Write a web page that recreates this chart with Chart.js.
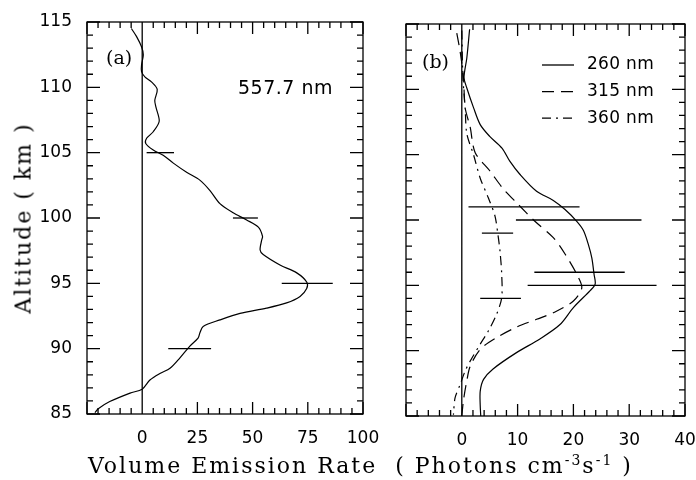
<!DOCTYPE html>
<html>
<head>
<meta charset="utf-8">
<script src="https://cdn.jsdelivr.net/npm/chart.js@4.4.0/dist/chart.umd.min.js"></script>
<style>
  body { margin: 0; background: #fff; }
  #wrap { position: relative; width: 696px; height: 480px; overflow: hidden; }
  canvas { position: absolute; top: 0; }
  #ca { left: 0; }
  #cb { left: 360px; }
  .title { position: absolute; font-family: "DejaVu Serif", serif; color: #000; white-space: nowrap; }
  #xt { left: 88px; top: 452px; font-size: 22px; letter-spacing: 2px; }
  #xt sup { font-size: 14px; }
  #yt { left: 23px; top: 218px; font-size: 22px; letter-spacing: 2px;
        transform: translate(-50%, -50%) rotate(-90deg); }
</style>
</head>
<body>
<div id="wrap">
  <canvas id="ca" width="380" height="480"></canvas>
  <canvas id="cb" width="336" height="480"></canvas>
  <div class="title" id="xt">Volume Emission Rate &nbsp;( Photons cm<sup>-3</sup>s<sup>-1</sup> )</div>
  <div class="title" id="yt">Altitude ( km )</div>
</div>
<script>
// panel (a): 557.7 nm profile
const altA = [114.5, 113.9, 113.1, 112.5, 111.7, 111.2, 110.8, 110.4, 109.85, 109.0, 108.5, 107.4, 106.6, 106.1, 105.7, 105.2, 104.8, 104.2, 103.5, 102.9, 102.1, 101.1, 100.4, 99.85, 99.3, 98.6, 98.3, 97.55, 97.2, 96.4, 95.8, 95.1, 94.6, 94.0, 93.5, 93.1, 92.7, 92.2, 91.7, 91.2, 90.8, 90.2, 89.3, 88.5, 88.1, 87.6, 86.9, 86.6, 85.95, 85.4, 85.1];
const rateA = [-4.9, -2.6, -0.3, 0.5, -0.3, -0.3, 1.2, 4.3, 6.8, 5.7, 6.2, 7.7, 5.0, 2.0, 1.6, 5.0, 9.5, 14.1, 20.1, 26.1, 30.7, 35.2, 41.2, 47.3, 52.6, 54.5, 54.1, 53.4, 54.8, 62.4, 70.0, 74.5, 74.5, 71.5, 65.4, 56.3, 44.3, 35.2, 27.6, 26.1, 25.3, 21.6, 17.1, 12.6, 8.0, 3.5, 0, -5.5, -14.7, -19.9, -21.4];
const errAltA = [105, 100, 95, 90];
const errLoA = [2.0, 41.1, 63.2, 11.8];
const errHiA = [14.4, 52.4, 86.3, 31.2];

// panel (b): three wavelengths
const alt260 = [114.6, 112.4, 110.9, 110.1, 108.6, 107.3, 106.4, 105.5, 104.5, 103.5, 102.2, 101.5, 100.8, 99.9, 99.2, 98.1, 97.1, 95.85, 95.1, 94.6, 93.3, 92.0, 90.9, 89.85, 88.6, 87.8, 86.9, 85.8, 85.0];
const val260 = [1.4, 0.9, 0.4, 0.9, 2.1, 3.3, 5.0, 7.2, 8.6, 10.4, 13.4, 16.4, 18.5, 20.6, 21.8, 22.7, 23.3, 23.7, 23.9, 23.0, 20.0, 17.6, 14.0, 9.8, 5.6, 3.9, 3.3, 3.3, 3.4];
const alt315 = [114.3, 112.9, 110.9, 108.6, 107.1, 105.15, 103.75, 102.4, 101.2, 99.9, 98.65, 97.4, 95.85, 94.8, 93.8, 92.9, 92.4, 91.8, 91.0, 90.1, 88.8, 87.7, 86.2, 85.0];
const val315 = [-0.9, -0.3, 0.3, 0.6, 1.5, 2.4, 5.05, 7.4, 10.1, 13.1, 16.4, 18.5, 20.6, 21.5, 20.0, 16.4, 13.4, 9.8, 6.25, 3.3, 1.5, 0.9, 0.3, 0.0];
const alt360 = [114.5, 110.9, 108.6, 106.6, 105.0, 103.2, 101.7, 100.3, 98.8, 97.6, 95.85, 94.05, 92.8, 91.5, 90.5, 89.2, 88.45, 87.4, 86.4, 85.1];
const val360 = [0.0, 0.2, 0.6, 0.9, 2.1, 3.3, 4.75, 5.95, 6.5, 6.85, 7.15, 7.15, 6.25, 4.75, 3.3, 1.5, 0.6, -0.3, -1.2, -1.5];
const errAltB = [101, 100, 99, 96, 95, 94];
const errLoB = [1.2, 9.7, 3.6, 13.0, 11.8, 3.3];
const errHiB = [21.1, 32.2, 9.2, 29.2, 34.9, 10.6];

const seriesNames = ['260 nm', '315 nm', '360 nm'];
const tickA = [0, 25, 50, 75, 100];
const tickB = [0, 10, 20, 30, 40];
const tickY = [85, 90, 95, 100, 105, 110, 115];

const numFont = { family: 'DejaVu Sans', size: 17 };

function pts(xs, ys) { return xs.map((x, i) => ({ x: x, y: ys[i] })); }
function errSets(alts, lo, hi) {
  return alts.map((a, i) => ({
    data: [{ x: lo[i], y: a }, { x: hi[i], y: a }],
    showLine: true, borderColor: '#000', borderWidth: 1.3, pointRadius: 0
  }));
}
// keep label overhang from shrinking the plot area
function noPad(s) { s.paddingLeft = 0; s.paddingRight = 0; s.paddingTop = 0; s.paddingBottom = 0; }

// frame, inward ticks on all sides, zero line, labels
const frame = {
  id: 'frame',
  afterDraw(chart, args, o) {
    const c = chart.ctx, a = chart.chartArea;
    const xs = chart.scales.x, ys = chart.scales.y;
    c.save();
    c.strokeStyle = '#000';
    c.lineWidth = 1.3;
    c.strokeRect(a.left, a.top, a.right - a.left, a.bottom - a.top);
    c.beginPath();
    for (let v = xs.min; v <= xs.max + 1e-9; v += o.xMinor) {
      const p = xs.getPixelForValue(v);
      const L = Math.abs(v % o.xMajor) < 1e-6 ? 12 : 6;
      c.moveTo(p, a.bottom); c.lineTo(p, a.bottom - L);
      c.moveTo(p, a.top); c.lineTo(p, a.top + L);
    }
    for (let v = ys.min; v <= ys.max + 1e-9; v += 1) {
      const p = ys.getPixelForValue(v);
      const L = v % 5 === 0 ? 13 : 6;
      c.moveTo(a.left, p); c.lineTo(a.left + L, p);
      c.moveTo(a.right, p); c.lineTo(a.right - L, p);
    }
    const z = xs.getPixelForValue(0);
    c.moveTo(z, a.top); c.lineTo(z, a.bottom);
    c.stroke();
    c.fillStyle = '#000';
    c.textBaseline = 'middle';
    c.font = '19px "DejaVu Serif"';
    c.fillText(o.panel, a.left + o.panelDx, a.top + o.panelDy);
    if (o.note) {
      c.font = '19px "DejaVu Sans"';
      c.letterSpacing = '0.5px';
      c.fillText(o.note, a.left + 151, a.top + 67);
    }
    if (o.legend) {
      c.font = '17px "DejaVu Sans"';
      c.letterSpacing = '0.3px';
      chart.data.datasets.slice(0, 3).forEach((d, i) => {
        const y = a.top + 41 + i * 26.6;
        c.beginPath();
        c.setLineDash(d.borderDash || []);
        c.lineWidth = 1.3;
        c.moveTo(a.left + 136, y); c.lineTo(a.left + 168, y);
        c.stroke();
        c.fillText(seriesNames[i], a.left + 181, y);
      });
    }
    c.restore();
  }
};

function xScale(min, max, step, labels, h) {
  return {
    type: 'linear', min: min, max: max,
    ticks: { stepSize: step, color: '#000', font: numFont, padding: 6, maxRotation: 0,
             callback: v => labels.includes(v) ? String(v) : '' },
    grid: { display: false }, border: { display: false },
    afterFit: s => { s.height = h; noPad(s); }
  };
}

new Chart(document.getElementById('ca'), {
  type: 'scatter',
  data: {
    datasets: [{
      data: pts(rateA, altA), showLine: true, borderColor: '#000',
      borderWidth: 1.2, pointRadius: 0, tension: 0.3
    }].concat(errSets(errAltA, errLoA, errHiA))
  },
  options: {
    responsive: false, animation: false,
    layout: { padding: { top: 22, right: 17, left: 0, bottom: 0 } },
    plugins: {
      legend: { display: false }, tooltip: { enabled: false },
      frame: { xMinor: 5, xMajor: 25, panel: '(a)', panelDx: 19, panelDy: 37, note: '557.7 nm' }
    },
    scales: {
      x: xScale(-25, 100, 25, tickA, 66),
      y: {
        min: 85, max: 115,
        ticks: { stepSize: 5, color: '#000', font: numFont, padding: 7,
                 callback: v => tickY.includes(v) ? String(v) : '' },
        grid: { display: false }, border: { display: false },
        afterFit: s => { s.width = 87; noPad(s); }
      }
    }
  },
  plugins: [frame]
});

new Chart(document.getElementById('cb'), {
  type: 'scatter',
  data: {
    datasets: [
      { data: pts(val260, alt260), showLine: true, borderColor: '#000', borderWidth: 1.2, pointRadius: 0, tension: 0.3 },
      { data: pts(val315, alt315), showLine: true, borderColor: '#000', borderWidth: 1.2, pointRadius: 0, tension: 0.3, borderDash: [12, 7] },
      { data: pts(val360, alt360), showLine: true, borderColor: '#000', borderWidth: 1.2, pointRadius: 0, tension: 0.3, borderDash: [9, 5, 2, 5] }
    ].concat(errSets(errAltB, errLoB, errHiB))
  },
  options: {
    responsive: false, animation: false,
    layout: { padding: { top: 24, right: 11, left: 46, bottom: 0 } },
    plugins: {
      legend: { display: false }, tooltip: { enabled: false },
      frame: { xMinor: 2, xMajor: 10, panel: '(b)', panelDx: 16, panelDy: 39, legend: true }
    },
    scales: {
      x: xScale(-10, 40, 10, tickB, 64),
      y: { display: false, min: 85, max: 115 }
    }
  },
  plugins: [frame]
});
</script>
</body>
</html>
